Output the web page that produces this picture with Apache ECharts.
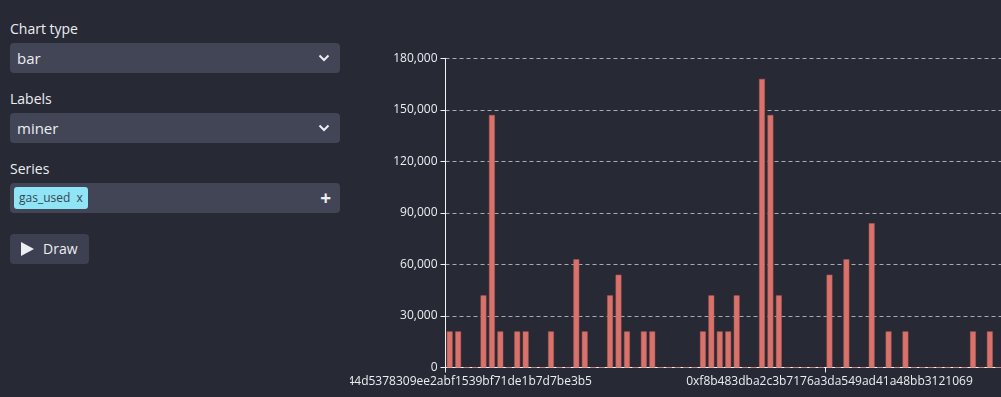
<!DOCTYPE html>
<html>
<head>
<meta charset="utf-8">
<script src="https://cdn.jsdelivr.net/npm/echarts@6/dist/echarts.min.js"></script>
<style>
  html, body {
    margin: 0;
    padding: 0;
    width: 1001px;
    height: 397px;
    background: #272934;
    overflow: hidden;
    font-family: "Open Sans", "Noto Sans", sans-serif;
    color: #eceef2;
  }
  .label {
    position: absolute;
    left: 10px;
    font-size: 14px;
  }
  .box {
    position: absolute;
    left: 10px;
    width: 330px;
    height: 30px;
    background: #424555;
    border-radius: 4px;
    font-size: 15px;
    line-height: 30px;
  }
  .box .txt { position: absolute; left: 7px; }
  .box svg { position: absolute; right: 10px; top: 10px; }
  .tag {
    position: absolute;
    left: 4px;
    top: 4px;
    height: 22px;
    line-height: 22px;
    padding: 0 5px 0 5px;
    background: #8fe4f5;
    color: #3a4552;
    border-radius: 3px;
    font-size: 12px;
  }
  .plus {
    position: absolute;
    right: 9px;
    top: 0;
    font-size: 19px;
    font-weight: bold;
  }
  .btn {
    position: absolute;
    left: 10px;
    top: 234px;
    width: 79px;
    height: 30px;
    background: #3d4050;
    border-radius: 4px;
    font-size: 14px;
    line-height: 30px;
  }
  .btn svg { position: absolute; left: 11px; top: 8px; }
  .btn span { position: absolute; left: 33px; }
  #main {
    position: absolute;
    left: 350px;
    top: 0;
    width: 651px;
    height: 397px;
  }
</style>
</head>
<body>
  <div class="label" style="top:19px">Chart type</div>
  <div class="box" style="top:43px">
    <span class="txt">bar</span>
    <svg width="12" height="10" viewBox="0 0 12 10"><path d="M1.5 2.5 L6 7 L10.5 2.5" stroke="#eceef2" stroke-width="2" fill="none"/></svg>
  </div>
  <div class="label" style="top:89px">Labels</div>
  <div class="box" style="top:113px">
    <span class="txt">miner</span>
    <svg width="12" height="10" viewBox="0 0 12 10"><path d="M1.5 2.5 L6 7 L10.5 2.5" stroke="#eceef2" stroke-width="2" fill="none"/></svg>
  </div>
  <div class="label" style="top:159px">Series</div>
  <div class="box" style="top:183px">
    <span class="tag">gas_used&nbsp; x</span>
    <span class="plus">+</span>
  </div>
  <div class="btn">
    <svg width="13" height="14" viewBox="0 0 13 14"><path d="M0 0 L13 7 L0 14 Z" fill="#eceef2"/></svg>
    <span>Draw</span>
  </div>

  <div id="main"></div>

<script>
// miner per block (x axis categories)
var miners = [
  '0x52bc44d5378309ee2abf1539bf71de1b7d7be3b5', '0xea674fdde714fd979de3edf0f56aa9716b898ec8',
  '0x5a0b54d5dc17e0aadc383d2db43b0a0d3e029c4c', '0x829bd824b016326a401d083b33d092293333a830',
  '0xea674fdde714fd979de3edf0f56aa9716b898ec8', '0x5a0b54d5dc17e0aadc383d2db43b0a0d3e029c4c',
  '0xb2930b35844a230f00e51431acae96fe543a0347', '0x829bd824b016326a401d083b33d092293333a830',
  '0xea674fdde714fd979de3edf0f56aa9716b898ec8', '0x52bc44d5378309ee2abf1539bf71de1b7d7be3b5',
  '0x99c85bb64564d9ef9a99621301f22c9993cb89e3', '0x5a0b54d5dc17e0aadc383d2db43b0a0d3e029c4c',
  '0xea674fdde714fd979de3edf0f56aa9716b898ec8', '0x04668ec2f57cc15c381b461b9fedab5d451c8f7f',
  '0x829bd824b016326a401d083b33d092293333a830', '0xea674fdde714fd979de3edf0f56aa9716b898ec8',
  '0x5a0b54d5dc17e0aadc383d2db43b0a0d3e029c4c', '0xb2930b35844a230f00e51431acae96fe543a0347',
  '0xea674fdde714fd979de3edf0f56aa9716b898ec8', '0x52bc44d5378309ee2abf1539bf71de1b7d7be3b5',
  '0x829bd824b016326a401d083b33d092293333a830', '0x5a0b54d5dc17e0aadc383d2db43b0a0d3e029c4c',
  '0xea674fdde714fd979de3edf0f56aa9716b898ec8', '0x99c85bb64564d9ef9a99621301f22c9993cb89e3',
  '0xea674fdde714fd979de3edf0f56aa9716b898ec8', '0x5a0b54d5dc17e0aadc383d2db43b0a0d3e029c4c',
  '0x829bd824b016326a401d083b33d092293333a830', '0xea674fdde714fd979de3edf0f56aa9716b898ec8',
  '0x04668ec2f57cc15c381b461b9fedab5d451c8f7f', '0x5a0b54d5dc17e0aadc383d2db43b0a0d3e029c4c',
  '0xea674fdde714fd979de3edf0f56aa9716b898ec8', '0xb2930b35844a230f00e51431acae96fe543a0347',
  '0x829bd824b016326a401d083b33d092293333a830', '0xea674fdde714fd979de3edf0f56aa9716b898ec8',
  '0x5a0b54d5dc17e0aadc383d2db43b0a0d3e029c4c', '0x52bc44d5378309ee2abf1539bf71de1b7d7be3b5',
  '0xea674fdde714fd979de3edf0f56aa9716b898ec8', '0x829bd824b016326a401d083b33d092293333a830',
  '0x5a0b54d5dc17e0aadc383d2db43b0a0d3e029c4c', '0xea674fdde714fd979de3edf0f56aa9716b898ec8',
  '0x99c85bb64564d9ef9a99621301f22c9993cb89e3', '0xea674fdde714fd979de3edf0f56aa9716b898ec8',
  '0x5a0b54d5dc17e0aadc383d2db43b0a0d3e029c4c', '0x829bd824b016326a401d083b33d092293333a830',
  '0xea674fdde714fd979de3edf0f56aa9716b898ec8', '0xf8b483dba2c3b7176a3da549ad41a48bb3121069',
  '0x5a0b54d5dc17e0aadc383d2db43b0a0d3e029c4c', '0xea674fdde714fd979de3edf0f56aa9716b898ec8',
  '0x829bd824b016326a401d083b33d092293333a830', '0xb2930b35844a230f00e51431acae96fe543a0347',
  '0xea674fdde714fd979de3edf0f56aa9716b898ec8', '0x5a0b54d5dc17e0aadc383d2db43b0a0d3e029c4c',
  '0x52bc44d5378309ee2abf1539bf71de1b7d7be3b5', '0xea674fdde714fd979de3edf0f56aa9716b898ec8',
  '0x829bd824b016326a401d083b33d092293333a830', '0x5a0b54d5dc17e0aadc383d2db43b0a0d3e029c4c',
  '0xea674fdde714fd979de3edf0f56aa9716b898ec8', '0x04668ec2f57cc15c381b461b9fedab5d451c8f7f',
  '0xea674fdde714fd979de3edf0f56aa9716b898ec8', '0x5a0b54d5dc17e0aadc383d2db43b0a0d3e029c4c',
  '0x829bd824b016326a401d083b33d092293333a830', '0xea674fdde714fd979de3edf0f56aa9716b898ec8',
  '0x99c85bb64564d9ef9a99621301f22c9993cb89e3', '0x5a0b54d5dc17e0aadc383d2db43b0a0d3e029c4c',
  '0xea674fdde714fd979de3edf0f56aa9716b898ec8', '0x829bd824b016326a401d083b33d092293333a830'
]

// gas_used per block
var gasUsed = [
  21000, 21000, 0, 0, 42000, 147000, 21000, 0, 21000, 21000,
  0, 0, 21000, 0, 0, 63000, 21000, 0, 0, 42000,
  54000, 21000, 0, 21000, 21000, 0, 0, 0, 0, 0,
  21000, 42000, 21000, 21000, 42000, 0, 0, 168000, 147000, 42000,
  0, 0, 0, 0, 0, 54000, 0, 63000, 0, 0,
  84000, 0, 21000, 0, 21000, 0, 0, 0, 0, 0,
  0, 0, 21000, 0, 21000, 0
]

var yMin = 0
var yMax = 180000
var yStep = 30000

var chartDom = document.getElementById('main')
var myChart = echarts.init(chartDom)
var option

option = {
  animation: false,
  textStyle: {
    fontFamily: '"Open Sans", "Noto Sans", sans-serif'
  },
  grid: {
    left: 95.5,
    top: 58.3,
    width: 557,
    height: 309.2,
    containLabel: false,
    outerBoundsMode: 'none'
  },
  xAxis: {
    type: 'category',
    data: miners,
    axisLine: { lineStyle: { color: '#f2f2f2', width: 1 } },
    axisTick: { show: true, interval: 44, lineStyle: { color: '#f2f2f2' } },
    axisLabel: { interval: 44, color: '#eceef2', fontSize: 12 },
    splitLine: { show: false }
  },
  yAxis: {
    type: 'value',
    min: yMin,
    max: yMax,
    interval: yStep,
    axisLine: { show: true, lineStyle: { color: '#f2f2f2', width: 1 } },
    axisTick: { show: true, lineStyle: { color: '#f2f2f2' } },
    axisLabel: { color: '#eceef2', fontSize: 12 },
    splitLine: {
      show: true,
      lineStyle: { color: '#a9abb3', type: [4, 3], width: 1 }
    }
  },
  series: [
    {
      name: 'gas_used',
      type: 'bar',
      data: gasUsed,
      itemStyle: {
        color: '#d8726b',
        borderColor: '#b85a55',
        borderWidth: 0.5
      }
    }
  ]
}
option && myChart.setOption(option)
</script>
</body>
</html>
